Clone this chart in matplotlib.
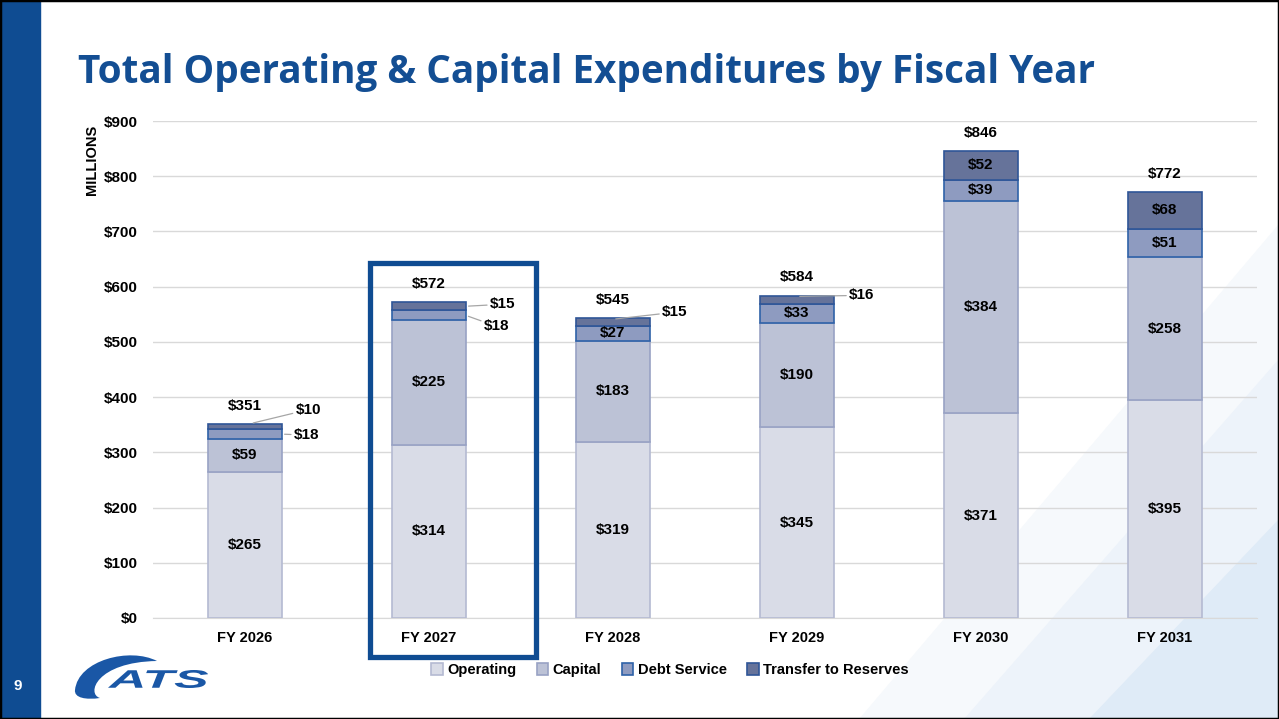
import matplotlib.pyplot as plt
import matplotlib.patches as mpatches
from matplotlib.path import Path
from matplotlib.textpath import TextPath
from matplotlib.font_manager import FontProperties
from matplotlib.transforms import Affine2D
import numpy as np

plt.rcParams['font.family'] = ['Liberation Sans', 'DejaVu Sans']

# data (millions)
years = ['FY 2026', 'FY 2027', 'FY 2028', 'FY 2029', 'FY 2030', 'FY 2031']
operating = [265, 314, 319, 345, 371, 395]
capital = [59, 225, 183, 190, 384, 258]
debt_service = [18, 18, 27, 33, 39, 51]
transfer = [10, 15, 15, 16, 52, 68]
totals = [351, 572, 545, 584, 846, 772]

series_names = ['Operating', 'Capital', 'Debt Service', 'Transfer to Reserves']
fills = ['#D9DCE7', '#BCC2D6', '#8E9BC0', '#66739A']
edges = ['#B4BAD2', '#98A2C4', '#2F62A8', '#2F5597']

# segments labelled outside the bar: (bar, series, anchor x off, anchor frac of seg, dx px, dy px)
callouts = [(0, 3, 0.03, 1.0, 45, -14),
            (0, 2, 0.20, 0.5, 12, 1),
            (1, 3, 0.20, 0.5, 24, -2),
            (1, 2, 0.20, 0.5, 18, 11),
            (2, 3, 0.00, 0.8, 49, -7),
            (3, 3, 0.00, 0.9, 52, -1)]

W, H = 1279, 719
fig = plt.figure(figsize=(W / 100, H / 100), dpi=100)

def px(x, y):
    return (x / W, 1 - y / H)

# background diagonal bands lower right
for pts, c in [([(860, 719), (1279, 225), (1279, 719)], '#F6F9FC'),
               ([(965, 719), (1279, 360), (1279, 719)], '#EDF3FA'),
               ([(1090, 719), (1279, 520), (1279, 719)], '#DFEBF7')]:
    fig.patches.append(mpatches.Polygon([px(*p) for p in pts], closed=True,
                                        transform=fig.transFigure, color=c, zorder=-5))

# left band + frame
fig.patches.append(mpatches.Rectangle((0, 0), 40 / W, 1, transform=fig.transFigure,
                                      color='#0F4C92', zorder=-4))
fig.patches.append(mpatches.Rectangle((0, 0), 1, 1, transform=fig.transFigure,
                                      fill=False, ec='black', lw=2.5, zorder=10))

title = fig.text(78 / W, 1 - 72 / H, 'Total Operating & Capital Expenditures by Fiscal Year',
                 fontsize=27, fontweight='bold', color='#134E93', va='center', ha='left',
                 family=['Open Sans', 'DejaVu Sans'])
# fit title width to the slide
r = fig.canvas.get_renderer()
tw = title.get_window_extent(r).width
title.set_fontsize(27 * 1018 / tw)

fig.text(18 / W, 1 - 686 / H, '9', color='white', fontsize=11, fontweight='bold',
         ha='center', va='center')

# logo approximation: crescent swoosh + wide italic ATS
logo_blue = '#1A57A6'
swoosh = [px(157, 661), px(130, 647), px(78, 660), px(75, 690),
          px(74, 698), px(86, 700), px(100, 698),
          px(86, 694), px(96, 662), px(157, 661)]
codes = [Path.MOVETO, Path.CURVE4, Path.CURVE4, Path.CURVE4,
         Path.CURVE4, Path.CURVE4, Path.CURVE4,
         Path.CURVE4, Path.CURVE4, Path.CURVE4]
fig.patches.append(mpatches.PathPatch(Path(swoosh, codes), transform=fig.transFigure,
                                      fc=logo_blue, ec='none', zorder=2))
tp = TextPath((0, 0), 'ATS', size=20,
              prop=FontProperties(family='Liberation Sans', weight='bold', style='italic'))
ext = tp.get_extents()
tf = (Affine2D().translate(-ext.x0, -ext.y0)
      .scale(100 / ext.width, 18 / ext.height)
      .translate(108, H - 688).scale(1 / W, 1 / H))
fig.patches.append(mpatches.PathPatch(tf.transform_path(tp), transform=fig.transFigure,
                                      fc=logo_blue, ec='none', zorder=2))

ax = fig.add_axes([153 / W, 1 - 618 / H, (1257 - 153) / W, (618 - 121) / H])
ax.patch.set_alpha(0)
ax.set_zorder(3)

x = np.arange(len(years))
width = 0.40
data = [operating, capital, debt_service, transfer]
bottom = np.zeros(len(years))
bars = []
for vals, name, fc, ec in zip(data, series_names, fills, edges):
    ax.bar(x, vals, width, bottom=bottom, color=fc, edgecolor=ec, linewidth=1.2,
           label=name, zorder=3)
    bars.append((vals, bottom.copy()))
    bottom += np.array(vals)

outside = {(c[0], c[1]) for c in callouts}
for s, (vals, bot) in enumerate(bars):
    for i, v in enumerate(vals):
        if (i, s) in outside:
            continue
        ax.text(x[i], bot[i] + v / 2, f'${v}', ha='center', va='center',
                fontsize=11, fontweight='bold', zorder=5)

for i, s, xo, frac, dx, dy in callouts:
    vals, bot = bars[s]
    ax.annotate(f'${vals[i]}', xy=(x[i] + xo, bot[i] + vals[i] * frac),
                xytext=(dx * 0.72, -dy * 0.72),
                textcoords='offset points', ha='left', va='center',
                fontsize=11, fontweight='bold', zorder=5,
                arrowprops=dict(arrowstyle='-', color='#A6A6A6', lw=0.9,
                                shrinkA=0, shrinkB=2))

for i, t in enumerate(totals):
    ax.annotate(f'${t}', xy=(x[i], bottom[i]), xytext=(0, 13), textcoords='offset points',
                ha='center', va='center', fontsize=11, fontweight='bold')

ax.set_xlim(-0.5, len(years) - 0.5)
ax.set_ylim(0, 900)
ax.set_yticks(range(0, 901, 100))
ax.set_yticklabels([f'${v}' for v in range(0, 901, 100)], fontsize=11, fontweight='bold')
ax.set_xticks(x)
ax.set_xticklabels(years, fontsize=10.5, fontweight='bold')
ax.tick_params(axis='y', length=0, pad=11)
ax.tick_params(axis='x', length=0, pad=9)
ax.yaxis.grid(True, color='#D9D9D9', lw=1, zorder=0)
for sp in ['left', 'right', 'top']:
    ax.spines[sp].set_visible(False)
ax.spines['bottom'].set_color('#D9D9D9')

fig.text(92 / W, 1 - 160 / H, 'MILLIONS', rotation=90, fontsize=10.5, fontweight='bold',
         ha='center', va='center')

# highlight box around FY 2027
ax.add_patch(mpatches.Rectangle((0.68, -71), 0.90, 714, fill=False, ec='#0F4C92',
                                lw=3.8, clip_on=False, zorder=6))

fig.legend(loc='center', bbox_to_anchor=(670 / W, 1 - 670 / H), ncol=4, frameon=False,
           prop={'weight': 'bold', 'size': 10.5}, handlelength=0.8, handleheight=0.8,
           handletextpad=0.3, columnspacing=1.4)

fig.savefig('out.png', dpi=100)
